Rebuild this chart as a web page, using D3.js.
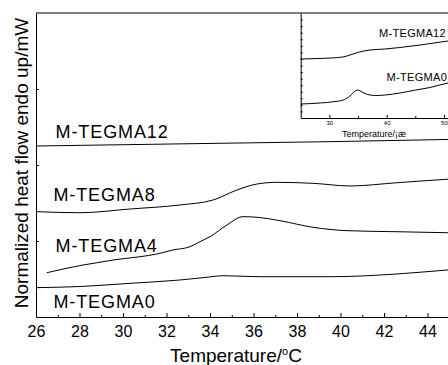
<!DOCTYPE html>
<html>
<head>
<meta charset="utf-8">
<script src="https://cdn.jsdelivr.net/npm/d3@7"></script>
<style>
  html, body { margin: 0; padding: 0; background: #fff; }
  svg { display: block; font-family: "Liberation Sans", Arial, sans-serif; }
  .axis path, .axis line { stroke: #000; stroke-width: 1; }
  .curve { fill: none; stroke: #000; stroke-width: 1; }
</style>
</head>
<body>
<div id="chart"></div>
<script>
// main DSC curves: temperature (°C) and normalized heat flow (arbitrary, offset units)
var tempM0 = [26, 28.02, 30.32, 32.62, 33.77, 34.6, 35.6, 36.44, 39.52, 42.6, 44.9, 46];
var flowM0 = [0.386, 0.401, 0.443, 0.487, 0.52, 0.543, 0.535, 0.53, 0.53, 0.566, 0.618, 0.64];

var tempM4 = [26.5, 28.16, 28.8, 29.54, 30.78, 31.56, 32.3, 33.08, 33.54, 34.0, 34.78, 35.52, 36.16, 37.22, 38.74, 40.3, 42.6, 44.9, 46];
var flowM4 = [0.583, 0.684, 0.714, 0.75, 0.793, 0.829, 0.882, 0.925, 0.991, 1.057, 1.211, 1.32, 1.312, 1.267, 1.18, 1.136, 1.122, 1.109, 1.105];

var tempM8 = [26, 28.02, 30.32, 32.62, 34.14, 35.24, 36.16, 37.08, 38.74, 40.44, 42.6, 44.9, 46];
var flowM8 = [1.386, 1.372, 1.421, 1.474, 1.539, 1.671, 1.75, 1.772, 1.759, 1.724, 1.767, 1.812, 1.83];

var tempM12 = [26, 32.16, 39.52, 44.94, 46];
var flowM12 = [2.25, 2.276, 2.307, 2.336, 2.342];

var seriesNames = ['M-TEGMA0', 'M-TEGMA4', 'M-TEGMA8', 'M-TEGMA12'];
// label anchor (temperature, flow) for each series name
var labelTemp = [26.8, 26.9, 26.8, 26.9];
var labelFlow = [0.12, 0.86, 1.53, 2.36];

var xTicks = [26, 28, 30, 32, 34, 36, 38, 40, 42, 44];
var xMinorTicks = [27, 29, 31, 33, 35, 37, 39, 41, 43, 45];
var yTicks = [1, 2, 3];

// inset curves
var insetTemp12 = [25, 28.4, 32.4, 33.6, 35.3, 37.1, 39.7, 42.3, 45.8, 50.7, 52];
var insetFlow12 = [8.99, 9.07, 9.3, 9.6, 10.06, 10.36, 10.51, 10.74, 11.12, 11.73, 11.9];
var insetTemp0 = [25, 28.4, 31, 32.4, 33.6, 34.5, 35, 35.7, 36.7, 38, 39.7, 42.3, 45.1, 47.6, 50.7, 52];
var insetFlow0 = [2.13, 2.29, 2.51, 2.74, 3.35, 4.11, 4.27, 3.96, 3.58, 3.43, 3.5, 3.81, 4.27, 4.65, 5.33, 5.5];
var insetNames = ['M-TEGMA12', 'M-TEGMA0'];
var insetLabelTemp = [50.35, 50.55];
var insetLabelFlow = [12.27, 5.68];
var insetXTicks = [30, 40, 50];
var insetXMinor = [35, 45];
var insetYTicks = d3.range(1, 16);

var width = 448, height = 365;
var svg = d3.select('#chart').append('svg')
    .attr('width', width)
    .attr('height', height);

var x = d3.scaleLinear().domain([26, 46]).range([36, 471]);
var y = d3.scaleLinear().domain([0, 4]).range([317, 13]);

var line = d3.line()
    .x(function (d) { return x(d[0]); })
    .y(function (d) { return y(d[1]); })
    .curve(d3.curveMonotoneX);

var mainSeries = [
  d3.zip(tempM0, flowM0),
  d3.zip(tempM4, flowM4),
  d3.zip(tempM8, flowM8),
  d3.zip(tempM12, flowM12)
];

svg.selectAll('path.main').data(mainSeries).enter().append('path')
    .attr('class', 'curve main')
    .attr('d', line);

svg.selectAll('text.lbl').data(seriesNames).enter().append('text')
    .attr('class', 'lbl')
    .attr('x', function (d, i) { return x(labelTemp[i]); })
    .attr('y', function (d, i) { return y(labelFlow[i]); })
    .attr('font-size', 18)
    .attr('letter-spacing', 0.9)
    .text(function (d) { return d; });

// bottom axis with inward ticks
var xAxis = d3.axisBottom(x).tickValues(xTicks).tickSizeInner(-4).tickSizeOuter(0).tickPadding(8.6);
var gx = svg.append('g').attr('class', 'axis')
    .attr('transform', 'translate(0,317)')
    .call(xAxis);
gx.selectAll('text').attr('font-size', 16).attr('font-family', '"Liberation Sans", Arial, sans-serif').attr('fill', '#000');

var gxMinor = svg.append('g').attr('class', 'axis')
    .attr('transform', 'translate(0,317)')
    .call(d3.axisBottom(x).tickValues(xMinorTicks).tickSizeInner(-2).tickSizeOuter(0).tickFormat(''));
gxMinor.select('.domain').remove();

var gy = svg.append('g').attr('class', 'axis')
    .attr('transform', 'translate(36,0)')
    .call(d3.axisLeft(y).tickValues(yTicks).tickSizeInner(-3).tickSizeOuter(0).tickFormat(''));

// top frame
svg.append('line')
    .attr('x1', 36).attr('x2', width)
    .attr('y1', y(4)).attr('y2', y(4))
    .attr('stroke', '#000');

// axis titles
svg.append('text')
    .attr('transform', 'translate(28,' + 163 + ') rotate(-90)')
    .attr('text-anchor', 'middle')
    .attr('font-size', 19)
    .text('Normalized heat flow endo up/mW');

var xt = svg.append('text')
    .attr('x', 236)
    .attr('y', 362)
    .attr('text-anchor', 'middle')
    .attr('font-size', 19);
xt.append('tspan').text('Temperature/');
xt.append('tspan').attr('font-size', 11).attr('dy', -7).text('o');
xt.append('tspan').attr('dy', 7).text('C');

// inset
var ix = d3.scaleLinear().domain([25, 52]).range([300.7, 455.4]);
var iy = d3.scaleLinear().domain([0, 16]).range([118, 13]);
var iline = d3.line()
    .x(function (d) { return ix(d[0]); })
    .y(function (d) { return iy(d[1]); })
    .curve(d3.curveMonotoneX);

var inset = svg.append('g');
inset.selectAll('path').data([d3.zip(insetTemp12, insetFlow12), d3.zip(insetTemp0, insetFlow0)])
    .enter().append('path')
    .attr('class', 'curve')
    .attr('d', iline);

inset.selectAll('text.ilbl').data(insetNames).enter().append('text')
    .attr('class', 'ilbl')
    .attr('x', function (d, i) { return ix(insetLabelTemp[i]); })
    .attr('y', function (d, i) { return iy(insetLabelFlow[i]); })
    .attr('text-anchor', 'end')
    .attr('font-size', 11)
    .attr('letter-spacing', 0.3)
    .text(function (d) { return d; });

var igx = inset.append('g').attr('class', 'axis')
    .attr('transform', 'translate(0,118)')
    .call(d3.axisBottom(ix).tickValues(insetXTicks).tickSizeInner(-3).tickSizeOuter(0).tickPadding(3));
igx.selectAll('text').attr('font-size', 6).attr('font-family', '"Liberation Sans", Arial, sans-serif').attr('fill', '#000');
inset.append('g').attr('class', 'axis')
    .attr('transform', 'translate(0,118)')
    .call(d3.axisBottom(ix).tickValues(insetXMinor).tickSizeInner(-2).tickSizeOuter(0).tickFormat(''))
    .select('.domain').remove();

inset.append('g').attr('class', 'axis')
    .attr('transform', 'translate(300.7,0)')
    .call(d3.axisLeft(iy).tickValues(insetYTicks).tickSizeInner(-2).tickSizeOuter(0).tickFormat(''));

inset.append('text')
    .attr('x', 374)
    .attr('y', 136.5)
    .attr('text-anchor', 'middle')
    .attr('font-size', 9)
    .text('Temperature/¡æ');
</script>
</body>
</html>
